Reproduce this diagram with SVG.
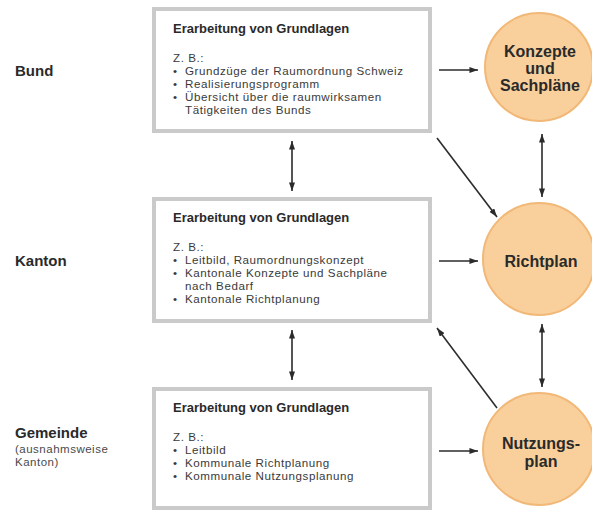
<svg xmlns="http://www.w3.org/2000/svg" width="592" height="512" viewBox="0 0 592 512">
<defs>
<marker id="ah" viewBox="0 0 10 7" refX="10" refY="3.5" markerWidth="9" markerHeight="6" markerUnits="userSpaceOnUse" orient="auto-start-reverse">
<path d="M0,0 L10,3.5 L0,7 z" fill="#2b2b2b"/>
</marker>
</defs>
<style>
.box{fill:#ffffff;stroke:#cacaca;stroke-width:4}
.circ{fill:#f9cf9c;stroke:#f1b877;stroke-width:2}
.h{font-family:"Liberation Sans",Arial,sans-serif;font-weight:bold;font-size:13px;fill:#2a2a2a}
.t{font-family:"Liberation Sans",Arial,sans-serif;font-size:11.6px;letter-spacing:0.55px;fill:#3a3a3a}
.lbl{font-family:"Liberation Sans",Arial,sans-serif;font-weight:bold;font-size:15px;fill:#2a2a2a}
.sub{font-family:"Liberation Sans",Arial,sans-serif;font-size:11.5px;letter-spacing:0.5px;fill:#4a4a4a}
.ct{font-family:"Liberation Sans",Arial,sans-serif;font-weight:bold;font-size:16px;fill:#2a2a2a;text-anchor:middle}
.c{stroke:#2b2b2b;stroke-width:1.6;fill:none;marker-end:url(#ah)}
.d{marker-start:url(#ah)}
</style>
<rect width="592" height="512" fill="#ffffff"/>

<g id="labels">
<text class="lbl" x="15" y="76">Bund</text>
<text class="lbl" x="15" y="266">Kanton</text>
<text class="lbl" x="15" y="438">Gemeinde</text>
<text class="sub" x="15" y="453">(ausnahmsweise</text>
<text class="sub" x="15" y="466">Kanton)</text>
</g>

<g id="box-bund">
<rect class="box" x="154" y="9" width="276" height="122"/>
<text class="h" x="173" y="33">Erarbeitung von Grundlagen</text>
<text class="t" x="173" y="62">Z. B.:</text>
<text class="t" x="173" y="75">•</text><text class="t" x="185" y="75">Grundzüge der Raumordnung Schweiz</text>
<text class="t" x="173" y="88">•</text><text class="t" x="185" y="88">Realisierungsprogramm</text>
<text class="t" x="173" y="101">•</text><text class="t" x="185" y="101">Übersicht über die raumwirksamen</text>
<text class="t" x="185" y="114">Tätigkeiten des Bunds</text>
</g>

<g id="box-kanton">
<rect class="box" x="154" y="199" width="276" height="122"/>
<text class="h" x="173" y="222">Erarbeitung von Grundlagen</text>
<text class="t" x="173" y="251">Z. B.:</text>
<text class="t" x="173" y="264">•</text><text class="t" x="185" y="264">Leitbild, Raumordnungskonzept</text>
<text class="t" x="173" y="277">•</text><text class="t" x="185" y="277">Kantonale Konzepte und Sachpläne</text>
<text class="t" x="185" y="290">nach Bedarf</text>
<text class="t" x="173" y="303">•</text><text class="t" x="185" y="303">Kantonale Richtplanung</text>
</g>

<g id="box-gemeinde">
<rect class="box" x="154" y="389" width="276" height="119"/>
<text class="h" x="173" y="412">Erarbeitung von Grundlagen</text>
<text class="t" x="173" y="441">Z. B.:</text>
<text class="t" x="173" y="454">•</text><text class="t" x="185" y="454">Leitbild</text>
<text class="t" x="173" y="467">•</text><text class="t" x="185" y="467">Kommunale Richtplanung</text>
<text class="t" x="173" y="480">•</text><text class="t" x="185" y="480">Kommunale Nutzungsplanung</text>
</g>

<g id="circle-konzepte">
<circle class="circ" cx="539" cy="67" r="54"/>
<text class="ct" x="540" y="57">Konzepte</text>
<text class="ct" x="540" y="74">und</text>
<text class="ct" x="540" y="91">Sachpläne</text>
</g>

<g id="circle-richtplan">
<circle class="circ" cx="539" cy="259" r="56"/>
<text class="ct" x="541" y="267">Richtplan</text>
</g>

<g id="circle-nutzungsplan">
<circle class="circ" cx="539" cy="449" r="56"/>
<text class="ct" x="541" y="449">Nutzungs-</text>
<text class="ct" x="541" y="467">plan</text>
</g>

<g id="connectors">
<line class="c" x1="439" y1="70" x2="478" y2="70"/>
<line class="c" x1="439" y1="261" x2="478" y2="261"/>
<line class="c" x1="439" y1="451" x2="478" y2="451"/>
<line class="c d" x1="292" y1="141" x2="292" y2="191"/>
<line class="c d" x1="292" y1="330" x2="292" y2="380"/>
<line class="c d" x1="542" y1="134" x2="542" y2="197"/>
<line class="c d" x1="542" y1="324" x2="542" y2="387"/>
<line class="c" x1="437" y1="138" x2="497" y2="217"/>
<line class="c" x1="497" y1="408" x2="437" y2="328"/>
</g>
</svg>
